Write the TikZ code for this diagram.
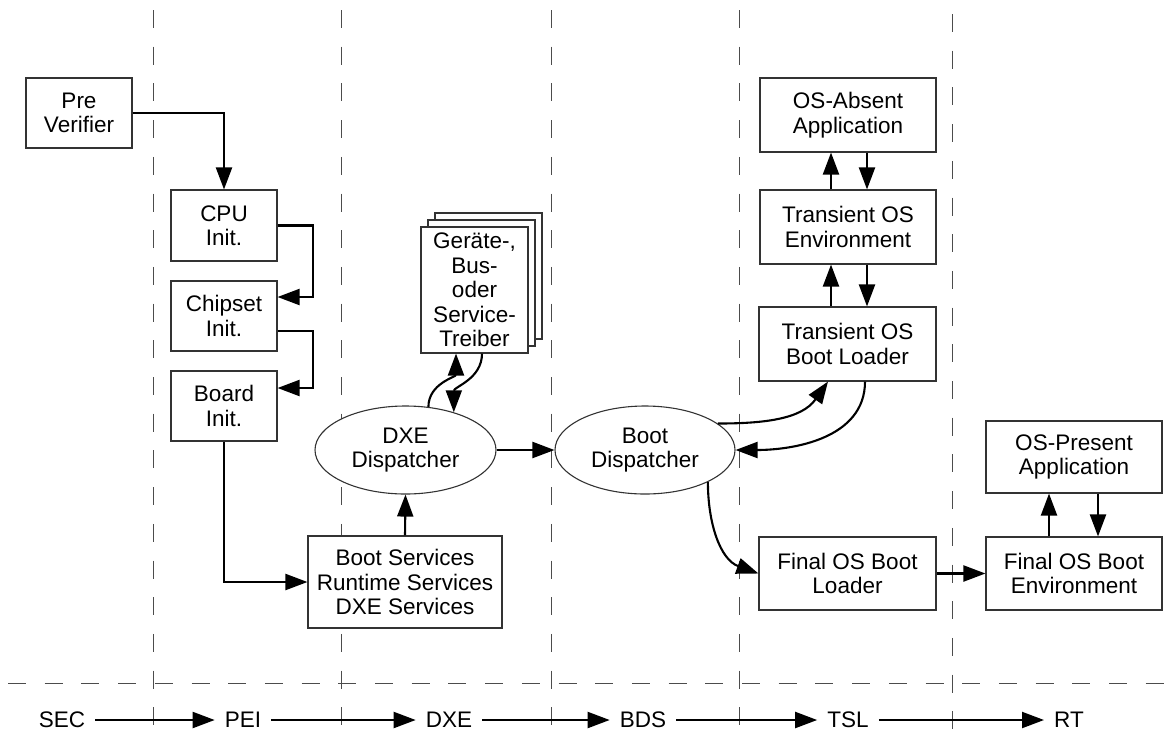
\documentclass[tikz,border=0pt]{standalone}
\usepackage{fontspec}
\setmainfont{Liberation Sans}
\usetikzlibrary{arrows.meta,shapes.geometric}
\begin{document}
\begin{tikzpicture}[x=1pt,y=1pt,
  every node/.style={font=\fontsize{22.5}{24.5}\selectfont, align=center},
  blk/.style={draw=black!80, line width=1.1pt, fill=white, inner sep=0pt},
  oval/.style={ellipse, draw=black!80, line width=1.1pt, fill=white,
    minimum width=181pt, minimum height=88pt, inner sep=0pt},
  arr/.style={line width=2.1pt, -{Triangle[length=22pt,width=16pt]}},
  phase/.style={draw=black!70, line width=1pt, dash pattern=on 18pt off 18.7pt},
  lbl/.style={inner xsep=10pt, inner ysep=0pt, text height=15pt, text depth=0pt}
]
\useasboundingbox (0,0) rectangle (1166,-742);

% phase separators
\foreach \x/\s in {153/10, 341/10, 551/10, 739/10, 952/14}
  \draw[phase] (\x,-\s) -- (\x,-742);
\draw[phase] (8,-683) -- (1166,-683);

% PEI column
\node[blk, minimum width=106pt, minimum height=70pt] (pv)    at (79,-113)    {Pre\\Verifier};
\node[blk, minimum width=106pt, minimum height=71pt] (cpu)   at (224,-225.5) {CPU\\Init.};
\node[blk, minimum width=106pt, minimum height=70pt] (chip)  at (224,-316)   {Chipset\\Init.};
\node[blk, minimum width=106pt, minimum height=70pt] (board) at (224,-406)   {Board\\Init.};

% DXE column
\node[blk, minimum width=194pt, minimum height=92pt] (bs) at (405,-582)
  {Boot Services\\Runtime Services\\DXE Services};
\node[oval] (dxe) at (405.5,-450) {DXE\\Dispatcher};
\node[blk, minimum width=107pt, minimum height=126pt] (drv3) at (488.5,-276) {};
\node[blk, minimum width=107pt, minimum height=126pt] (drv2) at (481.5,-283) {};
\node[blk, minimum width=107pt, minimum height=126pt] (drv)  at (474.5,-290)
  {Geräte-,\\Bus-\\oder\\Service-\\Treiber};

% BDS / TSL / RT
\node[oval, minimum width=180pt] (bd) at (645,-450) {Boot\\Dispatcher};
\node[blk, minimum width=176pt, minimum height=74pt] (osa)  at (848,-115) {OS-Absent\\Application};
\node[blk, minimum width=176pt, minimum height=74pt] (toe)  at (848,-227) {Transient OS\\Environment};
\node[blk, minimum width=177pt, minimum height=74pt] (tobl) at (847.5,-344) {Transient OS\\Boot Loader};
\node[blk, minimum width=177pt, minimum height=73pt] (fobl) at (847.5,-573.5) {Final OS Boot\\Loader};
\node[blk, minimum width=176pt, minimum height=72pt] (ospa) at (1074,-457) {OS-Present\\Application};
\node[blk, minimum width=176pt, minimum height=73pt] (fobe) at (1074,-573.5) {Final OS Boot\\Environment};

% PEI flow
\draw[arr] (pv.east) -| (cpu.north);
\draw[arr] (cpu.east) -- ++(35,0) |- ([yshift=19pt]chip.east);
\draw[arr] ([yshift=-15pt]chip.east) -- ++(35,0) |- ([yshift=18pt]board.east);
\draw[arr] (board.south) |- (bs.west);

% DXE flow
\draw[arr] (bs.north) -- (dxe.south);
\draw[arr] (dxe.62) to[out=90,in=-90] ([xshift=-18.5pt]drv.south);
\draw[arr] ([xshift=7.5pt]drv.south) to[out=-90,in=90] (dxe.38);
\draw[arr] (dxe.east) -- (bd.west);

% BDS flow
\draw[arr] (bd.20) to[out=0,in=-125] ([xshift=-19.5pt]tobl.south);
\draw[arr] ([xshift=17.5pt]tobl.south) to[out=-90,in=0] (bd.east);
\draw[arr] (bd.-27) to[out=-90,in=160] (fobl.west);
\draw[arr] (fobl.east) -- (fobe.west);

% transient OS stack
\draw[arr] ([xshift=-17pt]toe.south |- tobl.north) -- ([xshift=-17pt]toe.south);
\draw[arr] ([xshift=19pt]toe.south) -- ([xshift=19pt]toe.south |- tobl.north);
\draw[arr] ([xshift=-17pt]toe.north) -- ([xshift=-17pt]osa.south);
\draw[arr] ([xshift=19pt]osa.south) -- ([xshift=19pt]toe.north);

% runtime
\draw[arr] ([xshift=-25pt]fobe.north) -- ([xshift=-25pt]ospa.south);
\draw[arr] ([xshift=24pt]ospa.south) -- ([xshift=24pt]fobe.north);

% phase sequence
\node[lbl] (sec) at (62,-720)   {SEC};
\node[lbl] (pei) at (243,-720)  {PEI};
\node[lbl] (dx)  at (449,-720)  {DXE};
\node[lbl] (bds) at (643,-720)  {BDS};
\node[lbl] (tsl) at (848,-720)  {TSL};
\node[lbl] (rt)  at (1069,-720) {RT};
\draw[arr] (sec) -- (pei);
\draw[arr] (pei) -- (dx);
\draw[arr] (dx) -- (bds);
\draw[arr] (bds) -- (tsl);
\draw[arr] (tsl) -- (rt);
\end{tikzpicture}
\end{document}
